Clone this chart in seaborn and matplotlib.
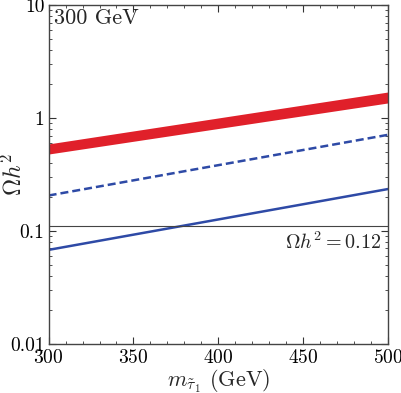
import numpy as np
import pandas as pd
import matplotlib
matplotlib.use("Agg")
import matplotlib.pyplot as plt
import matplotlib.transforms as mtransforms
import seaborn as sns
from matplotlib.ticker import FixedLocator, FixedFormatter, MultipleLocator, LogLocator, NullFormatter

sns.set_theme(style="ticks")
plt.rcParams['font.family'] = ['cmr10', 'DejaVu Serif']
plt.rcParams['mathtext.fontset'] = 'cm'
plt.rcParams['axes.formatter.use_mathtext'] = True

# data
mass = [300, 500]
band_low = [0.48, 1.36]
band_high = [0.59, 1.70]
dashed_vals = [0.206, 0.71]
solid_vals = [0.068, 0.235]
relic = 0.11
yticks = [0.01, 0.1, 1, 10]
ylabels = ["0.01", "0.1", "1", "10"]
xticks = [300, 350, 400, 450, 500]

fig = plt.figure(figsize=(4.02, 3.93), dpi=100)
ax = fig.add_axes([0.121, 0.125, 0.844, 0.862])

ax.fill_between(mass, band_low, band_high, color="#e0202a", lw=0)
df_d = pd.DataFrame({"m": mass, "v": dashed_vals})
df_s = pd.DataFrame({"m": mass, "v": solid_vals})
sns.lineplot(data=df_d, x="m", y="v", ax=ax, color="#2e4aa6", lw=1.8, linestyle=(0, (3.2, 1.6)))
sns.lineplot(data=df_s, x="m", y="v", ax=ax, color="#2e4aa6", lw=1.8)
ax.axhline(relic, color="#444444", lw=0.8)

ax.set_yscale("log")
ax.set_xlim(300, 500)
ax.set_ylim(0.01, 10)
ax.yaxis.set_major_locator(FixedLocator(yticks))
ax.yaxis.set_major_formatter(FixedFormatter(ylabels))
ax.yaxis.set_minor_locator(LogLocator(base=10, subs=np.arange(2, 10)))
ax.yaxis.set_minor_formatter(NullFormatter())
ax.xaxis.set_major_locator(FixedLocator(xticks))
ax.xaxis.set_minor_locator(MultipleLocator(10))

ax.tick_params(which="both", direction="in", top=True, right=True, colors="#333333", labelcolor="black", labelsize=14, pad=3)
ax.tick_params(axis="x", which="major", pad=4)
ax.tick_params(which="major", length=5, width=0.8)
ax.tick_params(which="minor", length=2.5, width=0.6)
for s in ax.spines.values():
    s.set_color("#444444")
    s.set_linewidth(1.0)

ax.set_xlabel(r"$m_{\tilde{\tau}_1}$ (GeV)", fontsize=16, labelpad=0)
ax.set_ylabel(r"$\Omega h^2$", fontsize=17)
ax.yaxis.set_label_coords(-0.065, 0.5)
ax.text(0.015, 0.99, "300 GeV", transform=ax.transAxes, ha="left", va="top", fontsize=16)
trans = mtransforms.blended_transform_factory(ax.transAxes, ax.transData)
ax.text(0.98, 0.098, r"$\Omega h^2 = 0.12$", transform=trans, ha="right", va="top", fontsize=14.5)

fig.savefig("out.png", dpi=100)
